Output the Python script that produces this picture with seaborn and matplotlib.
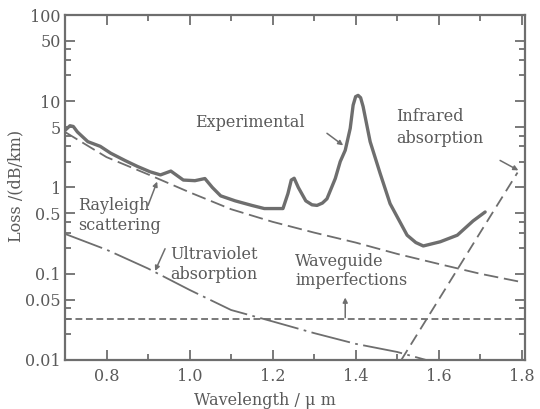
import matplotlib
matplotlib.use("Agg")
import matplotlib.pyplot as plt
import seaborn as sns
import pandas as pd
from matplotlib.ticker import FixedLocator, FixedFormatter, NullFormatter

# ---- data ----
exp_wl = [0.700, 0.712, 0.720, 0.730, 0.755, 0.785, 0.810, 0.845, 0.875, 0.905, 0.930,
          0.955, 0.985, 1.013, 1.037, 1.055, 1.075, 1.110, 1.150, 1.180, 1.225, 1.237,
          1.245, 1.252, 1.262, 1.280, 1.295, 1.307, 1.320, 1.331, 1.351, 1.363, 1.375,
          1.387, 1.394, 1.400, 1.406, 1.412, 1.418, 1.435, 1.459, 1.483, 1.524, 1.545,
          1.563, 1.604, 1.645, 1.683, 1.712]
exp_loss = [4.6, 5.2, 5.1, 4.4, 3.4, 3.0, 2.5, 2.05, 1.75, 1.52, 1.4,
            1.55, 1.22, 1.2, 1.27, 1.0, 0.8, 0.7, 0.62, 0.57, 0.57, 0.85,
            1.22, 1.28, 1.0, 0.7, 0.63, 0.62, 0.66, 0.74, 1.27, 2.0, 2.7,
            4.85, 9.0, 11.3, 11.7, 11.0, 8.7, 3.4, 1.46, 0.65, 0.28, 0.23,
            0.21, 0.235, 0.28, 0.41, 0.52]

ray_wl = [0.70, 0.80, 0.90, 1.00, 1.10, 1.20, 1.30, 1.40, 1.50, 1.60, 1.70, 1.80]
ray_loss = [4.4, 2.25, 1.42, 0.88, 0.56, 0.40, 0.30, 0.23, 0.17, 0.13, 0.10, 0.08]

uv_wl = [0.70, 0.80, 0.90, 1.00, 1.10, 1.20, 1.30, 1.40, 1.50, 1.57]
uv_loss = [0.29, 0.19, 0.115, 0.065, 0.038, 0.028, 0.0205, 0.0154, 0.0124, 0.010]

wg_wl = [0.70, 1.81]
wg_loss = [0.030, 0.030]

ir_wl = [1.51, 1.60, 1.70, 1.79]
ir_loss = [0.010, 0.05, 0.30, 1.49]

x_ticks = [0.8, 1.0, 1.2, 1.4, 1.6, 1.8]
x_labels = ["0.8", "1.0", "1.2", "1.4", "1.6", "1.8"]
y_ticks = [0.01, 0.05, 0.1, 0.5, 1, 5, 10, 50, 100]
y_labels = ["0.01", "0.05", "0.1", "0.5", "1", "5", "10", "50", "100"]

# ---- style ----
sns.set_style("ticks")
plt.rcParams["font.family"] = ["DejaVu Serif"]
LC = "#6e6e6e"
TC = "#5a5a5a"
FS = 11.5

fig = plt.figure(figsize=(5.4, 4.09), dpi=100)
ax = fig.add_axes([65 / 540, 1 - 360 / 409, 460 / 540, 345 / 409])

sns.lineplot(x=exp_wl, y=exp_loss, ax=ax, color=LC, linewidth=2.4, sort=False, errorbar=None)
sns.lineplot(x=ray_wl, y=ray_loss, ax=ax, color=LC, linewidth=1.3, sort=False, errorbar=None,
             linestyle=(0, (8, 3.2)))
sns.lineplot(x=uv_wl, y=uv_loss, ax=ax, color=LC, linewidth=1.3, sort=False, errorbar=None,
             linestyle=(0, (22, 3, 1.5, 3)))
sns.lineplot(x=wg_wl, y=wg_loss, ax=ax, color=LC, linewidth=1.3, sort=False, errorbar=None,
             linestyle=(0, (3.8, 2.0)))
sns.lineplot(x=ir_wl, y=ir_loss, ax=ax, color=LC, linewidth=1.3, sort=False, errorbar=None,
             linestyle=(0, (6.5, 3.5)))

ax.set_yscale("log")
ax.set_xlim(0.7, 1.808)
ax.set_ylim(0.01, 100)

ax.xaxis.set_major_locator(FixedLocator(x_ticks))
ax.xaxis.set_major_formatter(FixedFormatter(x_labels))
ax.xaxis.set_minor_locator(FixedLocator([0.9, 1.1, 1.3, 1.5, 1.7]))
ax.xaxis.set_minor_formatter(NullFormatter())
ax.yaxis.set_major_locator(FixedLocator(y_ticks))
ax.yaxis.set_major_formatter(FixedFormatter(y_labels))
ax.yaxis.set_minor_locator(FixedLocator([0.02, 0.03, 0.04, 0.2, 0.3, 0.4, 2, 3, 4, 20, 30, 40]))
ax.yaxis.set_minor_formatter(NullFormatter())

ax.tick_params(which="both", direction="in", top=True, right=True, color=LC,
               labelcolor=TC, labelsize=FS, width=1.3)
ax.tick_params(which="major", length=7)
ax.tick_params(which="minor", length=4.5)
ax.tick_params(axis="x", pad=6)
ax.tick_params(axis="y", pad=3)
for s in ax.spines.values():
    s.set_color(LC)
    s.set_linewidth(1.6)

ax.set_xlabel("Wavelength / μ m", fontsize=FS, color=TC)
ax.set_ylabel("Loss /(dB/km)", fontsize=FS, color=TC)
ax.xaxis.set_label_coords(0.435, -0.092)
ax.yaxis.set_label_coords(-0.088, 0.505)

# ---- annotations ----
tk = dict(fontsize=FS, color=TC)
ax.text(1.146, 5.7, "Experimental", ha="center", va="center", **tk)
ax.text(1.498, 5.0, "Infrared\nabsorption", ha="left", va="center", linespacing=1.4, **tk)
ax.text(0.731, 0.47, "Rayleigh\nscattering", ha="left", va="center", linespacing=1.25, **tk)
ax.text(0.953, 0.127, "Ultraviolet\nabsorption", ha="left", va="center", linespacing=1.2, **tk)
ax.text(1.254, 0.108, "Waveguide\nimperfections", ha="left", va="center", linespacing=1.2, **tk)

ap = dict(arrowstyle="-|>", color=LC, lw=1.1, mutation_scale=7, shrinkA=0, shrinkB=0)
ax.annotate("", xy=(1.37, 3.08), xytext=(1.331, 4.25), arrowprops=ap)
ax.annotate("", xy=(0.922, 1.17), xytext=(0.90, 0.62), arrowprops=ap)
ax.annotate("", xy=(0.917, 0.108), xytext=(0.941, 0.195), arrowprops=ap)
ax.annotate("", xy=(1.375, 0.053), xytext=(1.375, 0.031), arrowprops=ap)
ax.annotate("", xy=(1.792, 1.58), xytext=(1.748, 2.06), arrowprops=ap)

fig.savefig("out.png", dpi=100, facecolor="white")
